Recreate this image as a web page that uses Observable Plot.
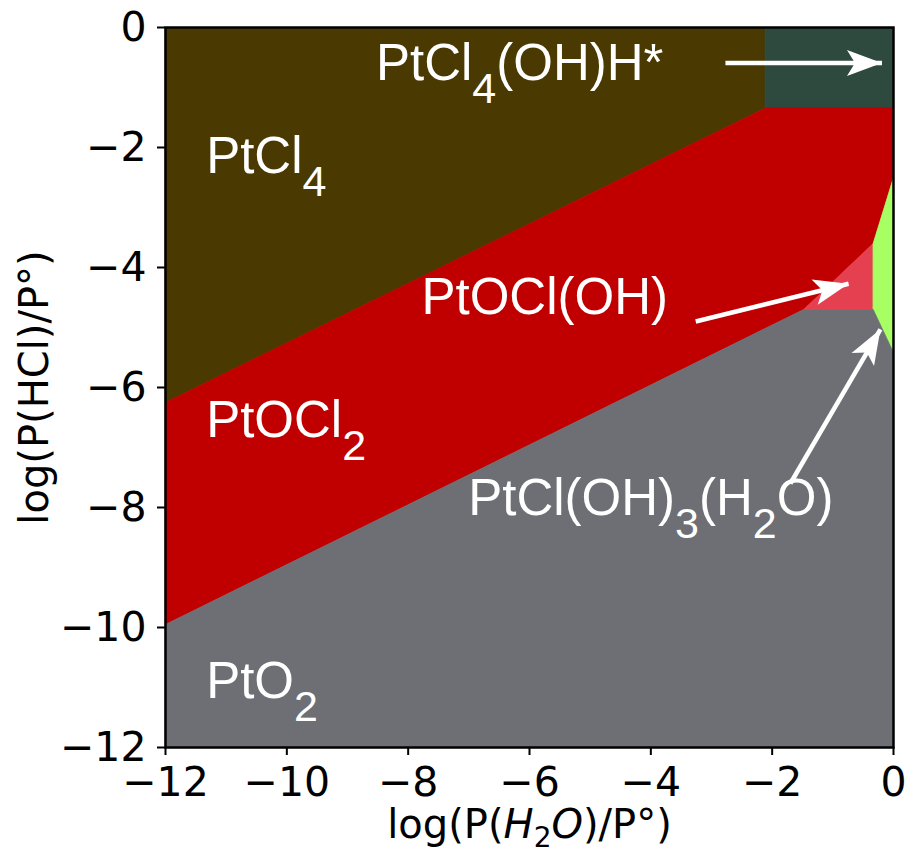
<!DOCTYPE html>
<html>
<head>
<meta charset="utf-8">
<script src="https://cdn.jsdelivr.net/npm/d3@7"></script>
<script src="https://cdn.jsdelivr.net/npm/@observablehq/plot@0.6"></script>
<style>
  html, body { margin: 0; padding: 0; background: #ffffff; }
  #chart svg { display: block; }
</style>
</head>
<body>
<div id="chart"></div>
<script>
// Stability regions of Pt species vs log P(H2O) (x) and log P(HCl) (y).
// Each region is a polygon given by its corner points [logPH2O, logPHCl].
const regionPtCl4      = [[-12, 0], [-2.11, 0], [-2.11, -1.34], [-12, -6.25]];
const regionPtCl4OHH   = [[-2.11, 0], [0, 0], [0, -1.34], [-2.11, -1.34]];
const regionPtOCl2     = [[-12, -6.25], [-2.11, -1.34], [0, -1.34], [0, -2.5], [-0.335, -3.6], [-1.48, -4.7], [-12, -9.95]];
const regionPtOClOH    = [[-1.48, -4.7], [-0.335, -3.6], [-0.335, -4.7]];
const regionPtClOH3H2O = [[-0.335, -3.6], [0, -2.5], [0, -5.42], [-0.335, -4.7]];
const regionPtO2       = [[-12, -9.95], [-1.48, -4.7], [-0.335, -4.7], [0, -5.42], [0, -12], [-12, -12]];

const phaseNames   = ["PtCl4", "PtCl4(OH)H*", "PtOCl2", "PtOCl(OH)", "PtCl(OH)3(H2O)", "PtO2"];
const phaseRegions = [regionPtCl4, regionPtCl4OHH, regionPtOCl2, regionPtOClOH, regionPtClOH3H2O, regionPtO2];
const phaseColors  = ["#4a3900", "#2e4a3e", "#c00000", "#e5404f", "#a7ff63", "#6e6f75"];

// Region labels ("_n" marks a subscript digit) and their anchor points
const labelText = ["PtCl_4(OH)H*", "PtCl_4", "PtOCl(OH)", "PtOCl_2", "PtCl(OH)_3(H_2O)", "PtO_2"];
const labelX    = [-8.53, -11.33, -7.78, -11.33, -7.01, -11.33];
const labelY    = [-0.88, -2.43, -4.77, -6.82, -8.13, -11.17];

// Annotation arrows: tail (x1, y1) to head (x2, y2)
const arrowX1 = [-2.77, -3.26, -1.70];
const arrowY1 = [-0.59, -4.90, -7.60];
const arrowX2 = [-0.19, -0.74, -0.215];
const arrowY2 = [-0.59, -4.27, -5.03];

// Axes
const tickValues = [-12, -10, -8, -6, -4, -2, 0];
const xAxisLabel = "log(P(H2O)/P°)";
const yAxisLabel = "log(P(HCl)/P°)";

const regionRows = phaseRegions.flatMap((pts, i) =>
  pts.map(([x, y], k) => ({phase: phaseNames[i], order: k, x, y})));
const labels = labelText.map((t, i) => ({text: t, x: labelX[i], y: labelY[i]}));
const arrows = arrowX1.map((x1, i) => ({x1, y1: arrowY1[i], x2: arrowX2[i], y2: arrowY2[i]}));
const minus = (d) => (d < 0 ? "\u2212" + Math.abs(d) : String(d));

const chart = Plot.plot({
  width: 906,
  height: 853,
  marginLeft: 165,
  marginRight: 13,
  marginTop: 27,
  marginBottom: 106,
  style: {fontFamily: "'DejaVu Sans', sans-serif", fontSize: "40px", color: "black", background: "white"},
  x: {domain: [-12, 0], label: null},
  y: {domain: [-12, 0], label: null},
  color: {domain: phaseNames, range: phaseColors},
  marks: [
    Plot.line(regionRows, {
      x: "x", y: "y", z: "phase",
      curve: "linear-closed",
      fill: "phase",
      stroke: "phase",
      strokeWidth: 0.8,
      strokeLinejoin: "miter"
    }),
    Plot.text(labels, {
      x: "x", y: "y", text: "text",
      textAnchor: "start", lineAnchor: "bottom",
      fill: "white",
      fontFamily: "'Liberation Sans', Arial, sans-serif",
      fontSize: 51
    }),
    Plot.link(arrows, {
      x1: "x1", y1: "y1", x2: "x2", y2: "y2",
      stroke: "white", strokeWidth: 4.5
    }),
    Plot.frame({stroke: "black", strokeWidth: 2.5}),
    Plot.axisX({ticks: tickValues, tickFormat: minus, tickSize: 8, tickPadding: 11, strokeWidth: 2, fontSize: 41, label: null}),
    Plot.axisY({ticks: tickValues, tickFormat: minus, tickSize: 8, tickPadding: 11, strokeWidth: 2, fontSize: 41, label: null}),
    Plot.text([xAxisLabel], {frameAnchor: "bottom", dy: 90, lineAnchor: "bottom", text: (d) => d, fontSize: 40}),
    Plot.text([yAxisLabel], {frameAnchor: "left", dx: -130, rotate: -90, textAnchor: "middle", lineAnchor: "middle", text: (d) => d, fontSize: 40})
  ]
});

document.getElementById("chart").appendChild(chart);

// Rich text: subscripts and italics inside SVG text
const NS = "http://www.w3.org/2000/svg";
function setRich(textEl, parts, subSize, shift) {
  textEl.textContent = "";
  let current = 0;
  for (const p of parts) {
    const span = document.createElementNS(NS, "tspan");
    span.textContent = p.t;
    if (p.italic) span.setAttribute("font-style", "italic");
    if (p.sub) span.setAttribute("font-size", subSize);
    const want = p.sub ? shift : 0;
    if (want !== current) { span.setAttribute("dy", want - current); current = want; }
    textEl.appendChild(span);
  }
}
function parseMarkup(s) {
  return s.split(/(_\d)/).filter((t) => t.length).map((t) =>
    t[0] === "_" ? {t: t.slice(1), sub: true} : {t});
}

const svg = chart.tagName.toLowerCase() === "svg" ? chart : chart.querySelector("svg");

svg.querySelectorAll("text").forEach((el) => {
  const s = el.textContent;
  const k = labelText.indexOf(s);
  if (k >= 0) {
    setRich(el, parseMarkup(s), 43, 23);
  } else if (s === xAxisLabel) {
    setRich(el, [
      {t: "log(P("},
      {t: "H", italic: true},
      {t: "2", sub: true},
      {t: "O", italic: true},
      {t: ")/P°)"}
    ], 28, 9);
  }
});

// Filled arrowheads with a swept-back notch
const defs = document.createElementNS(NS, "defs");
const marker = document.createElementNS(NS, "marker");
marker.setAttribute("id", "arrow-head-filled");
marker.setAttribute("markerUnits", "userSpaceOnUse");
marker.setAttribute("viewBox", "-38 -15 40 30");
marker.setAttribute("markerWidth", 40);
marker.setAttribute("markerHeight", 30);
marker.setAttribute("refX", 0);
marker.setAttribute("refY", 0);
marker.setAttribute("orient", "auto");
const head = document.createElementNS(NS, "path");
head.setAttribute("d", "M0,0L-35,-13L-27,0L-35,13Z");
head.setAttribute("fill", "white");
marker.appendChild(head);
defs.appendChild(marker);
svg.insertBefore(defs, svg.firstChild);
svg.querySelectorAll('g[aria-label="link"] path').forEach((p) => {
  p.setAttribute("marker-end", "url(#arrow-head-filled)");
});
</script>
</body>
</html>
